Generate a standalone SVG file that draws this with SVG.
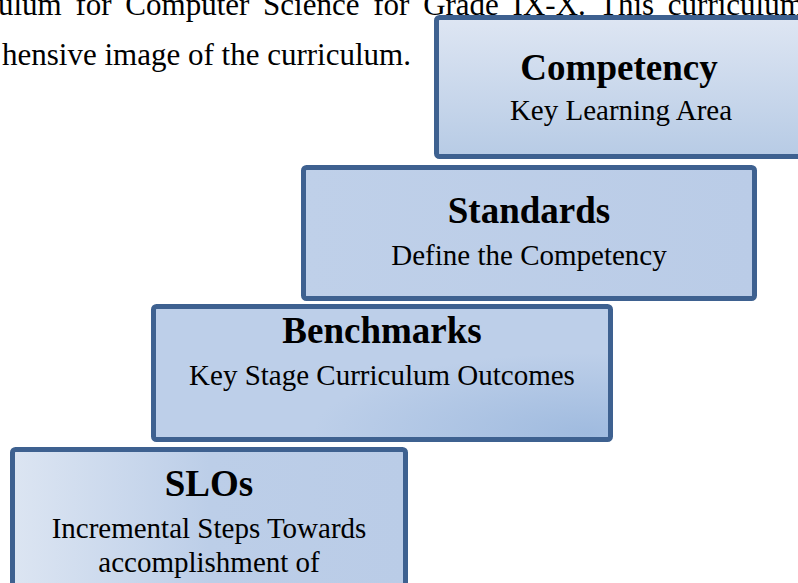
<svg xmlns="http://www.w3.org/2000/svg" width="798" height="583" viewBox="0 0 798 583">
<defs>
<linearGradient id="gV" x1="0" y1="0" x2="0" y2="1">
<stop offset="0" stop-color="#dee6f3"/>
<stop offset="1" stop-color="#b7cbe5"/>
</linearGradient>
<linearGradient id="gFlat" x1="0" y1="0" x2="1" y2="0">
<stop offset="0" stop-color="#bfd0e9"/>
<stop offset="1" stop-color="#bacce7"/>
</linearGradient>
<radialGradient id="gB" cx="0.95" cy="0.95" r="0.6">
<stop offset="0" stop-color="#a0bbdf"/>
<stop offset="1" stop-color="#bdcfe9"/>
</radialGradient>
<linearGradient id="gH" x1="0" y1="0" x2="1" y2="0">
<stop offset="0" stop-color="#dce5f2"/>
<stop offset="0.5" stop-color="#bccee8"/>
<stop offset="1" stop-color="#bacce7"/>
</linearGradient>
</defs>
<style>
.box{stroke:#3e6190;stroke-width:5}
.t{font-family:"Liberation Serif","Times New Roman",serif;fill:#000}
.h{font-weight:bold;font-size:37px;text-anchor:middle}
.s{font-size:29px;text-anchor:middle}
.p{font-size:31px}
</style>
<g id="bodytext">
<text class="t p" x="-2" y="15" word-spacing="6">ulum for Computer Science for Grade IX-X. This curriculum</text>
<text class="t p" x="2" y="65">hensive image of the curriculum.</text>
</g>
<g id="connectors"></g>
<g id="competency">
<rect class="box" x="436.500" y="17.500" width="370" height="139" rx="3" fill="url(#gV)"/>
<text class="t h" x="619" y="80">Competency</text>
<text class="t s" x="621" y="120">Key Learning Area</text>
</g>
<g id="standards">
<rect class="box" x="303.500" y="167.500" width="451" height="131" rx="3" fill="url(#gFlat)"/>
<text class="t h" x="529" y="223">Standards</text>
<text class="t s" x="529" y="265">Define the Competency</text>
</g>
<g id="benchmarks">
<rect class="box" x="153.500" y="306.500" width="457" height="133" rx="3" fill="url(#gB)"/>
<text class="t h" x="382" y="343">Benchmarks</text>
<text class="t s" x="382" y="385">Key Stage Curriculum Outcomes</text>
</g>
<g id="slos">
<rect class="box" x="12.500" y="449.500" width="393" height="160" rx="3" fill="url(#gH)"/>
<text class="t h" x="209" y="496">SLOs</text>
<text class="t s" x="209" y="538">Incremental Steps Towards</text>
<text class="t s" x="209" y="572">accomplishment of</text>
</g>
</svg>
